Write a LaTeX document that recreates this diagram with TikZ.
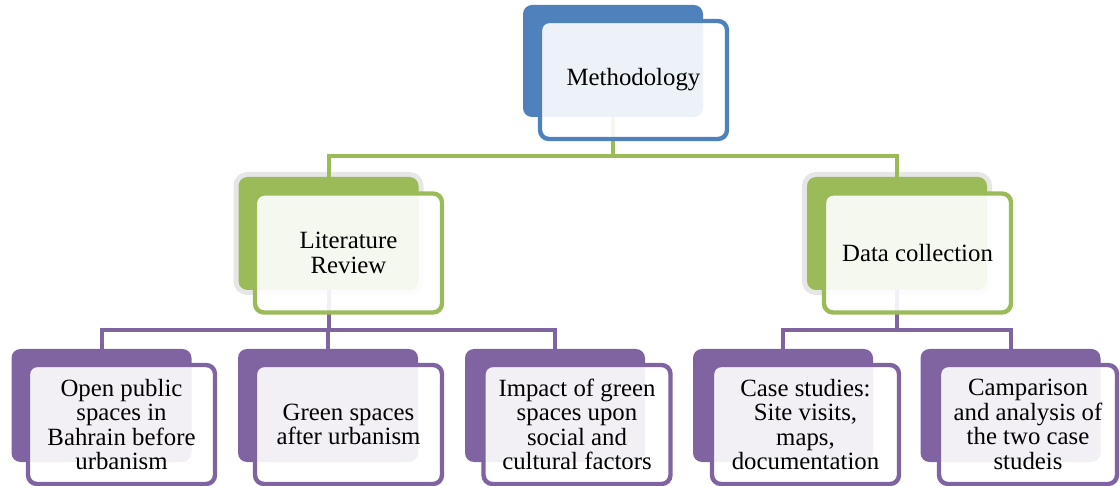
\documentclass[tikz,border=0pt]{standalone}
\usepackage{fontspec}
\setmainfont{Liberation Serif}
\usetikzlibrary{positioning}
\definecolor{methblue}{HTML}{4F81BD}
\definecolor{methgreen}{HTML}{9BBB59}
\definecolor{methpurple}{HTML}{8064A2}
\definecolor{halogray}{HTML}{E6E6E6}
\tikzset{
    box/.style = {rectangle, rounded corners=4.5pt, inner sep=0pt},
    back/.style = {box, minimum width=90pt, minimum height=56.5pt},
    backb/.style = {back, fill=methblue, minimum height=56pt},
    backg/.style = {back, fill=methgreen, preaction={draw=halogray, line width=5pt}},
    backp/.style = {back, fill=methpurple},
    front/.style = {box, line width=2.2pt, fill=white, fill opacity=0.9, text opacity=1,
                    minimum width=93.5pt, minimum height=59.5pt, align=center,
                    font=\fontsize{12.4}{12.2}\selectfont},
    frontb/.style = {front, draw=methblue, minimum height=59pt},
    frontg/.style = {front, draw=methgreen},
    frontp/.style = {front, draw=methpurple},
    edgeg/.style = {line width=2pt, methgreen},
    edgep/.style = {line width=2pt, methpurple}
}
\begin{document}
\begin{tikzpicture}[x=0.5pt, y=-0.5pt]
\useasboundingbox (0,0) rectangle (1120,486);
%
% coloured back plates
\node[backb] at (613,61) (mb) {};
\node[backg] at (328.5,233.5) (lb) {};
\node[backg] at (897,233.5) (db) {};
\node[backp] at (101.5,405.5) (p1b) {};
\node[backp] at (328,405.5) (p2b) {};
\node[backp] at (555,405.5) (p3b) {};
\node[backp] at (783,405.5) (p4b) {};
\node[backp] at (1010.5,405.5) (p5b) {};
%
% tree links, drawn under the text boxes
\draw[edgeg] (mb.south) -- ++(0,39) -| (lb.north);
\draw[edgeg] (mb.south) -- ++(0,39) -| (db.north);
\draw[edgep] (lb.south) -- ++(0,40) -| (p1b.north);
\draw[edgep] (lb.south) -- ++(0,40) -| (p2b.north);
\draw[edgep] (lb.south) -- ++(0,40) -| (p3b.north);
\draw[edgep] (db.south) -- ++(0,40) -| (p4b.north);
\draw[edgep] (db.south) -- ++(0,40) -| (p5b.north);
%
% text boxes
\node[frontb] at (633.5,80) (mf) {Methodology};
\node[frontg] at (348.5,253) (lf) {Literature\\Review};
\node[frontg] at (917.5,253) (df) {Data collection};
\node[frontp] at (121.5,424.5) (p1f) {Open public\\spaces in\\Bahrain before\\urbanism};
\node[frontp] at (348.5,424.5) (p2f) {Green spaces\\after urbanism};
\node[frontp] at (577,424.5) (p3f) {Impact of green\\spaces upon\\social and\\cultural factors};
\node[frontp] at (805.5,424.5) (p4f) {Case studies:\\Site visits,\\maps,\\documentation};
\node[frontp, minimum width=89pt] at (1028,424.5) (p5f) {Camparison\\and analysis of\\the two case\\studeis};
\end{tikzpicture}
\end{document}
